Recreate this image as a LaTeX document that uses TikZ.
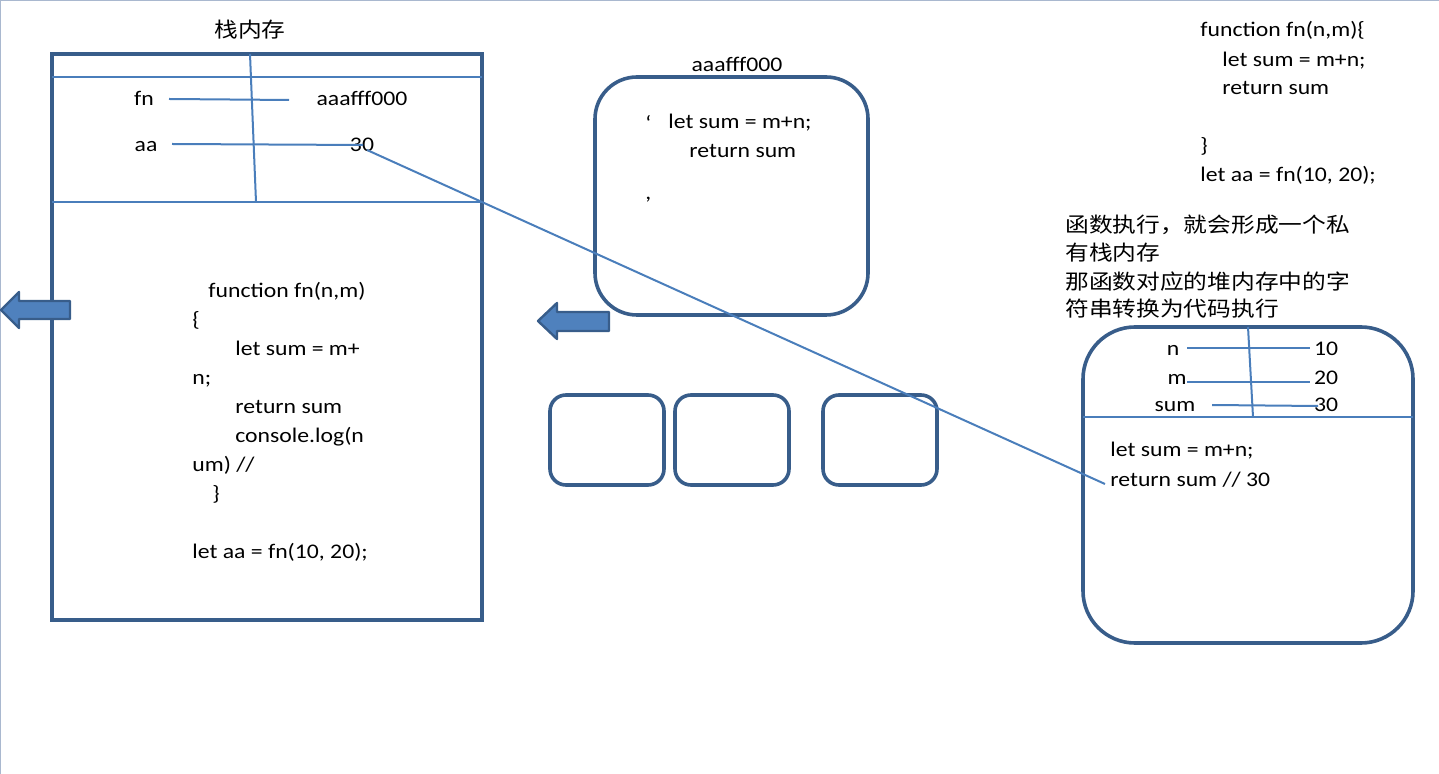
\documentclass[tikz,border=0pt]{standalone}
\usepackage{fontspec}
\setmainfont{Carlito}
\newfontfamily\cjk{Noto Sans CJK SC}
\newcommand{\SX}[1]{\scalebox{1.14}[1]{#1}}
\definecolor{boxc}{HTML}{385D8A}
\definecolor{linec}{HTML}{4A7EBB}
\definecolor{fillc}{HTML}{4F81BD}
\definecolor{framec}{HTML}{A9B8CF}
\begin{document}
\begin{tikzpicture}[x=0.5pt,y=-0.5pt,
  txt/.style={inner sep=0pt, font=\fontsize{10.4}{12}\selectfont, text=black},
  lt/.style={txt, anchor=base west},
  ct/.style={txt, anchor=base},
  boxframe/.style={draw=boxc, line width=1.6pt},
  heapbox/.style={draw=boxc, line width=1.8pt},
  thinline/.style={draw=linec, line width=1pt},
  blockarrow/.style={draw=boxc, fill=fillc, line width=1.2pt, line join=round}]
\useasboundingbox (0,0) rectangle (1439,774);
% page frame
\draw[framec, line width=0.8pt] (0.7,774) -- (0.7,0.7) -- (1439,0.7);

% ---------------- stack memory (left) ----------------
\node[ct] (title) at (250,38) {\cjk\SX{栈内存}};
\draw[boxframe] (52,54) rectangle (482,620);
\draw[thinline] (52,77) -- (482,77);
\draw[thinline] (52,202) -- (482,202);
\draw[thinline] (250,54) -- (256,202);
\node[ct] (fnkey) at (144,106) {\SX{fn}};
\node[ct] (fnval) at (362,106) {\SX{aaafff000}};
\node[ct] (aakey) at (146,152) {\SX{aa}};
\node[ct] (aaval) at (362,152) {\SX{30}};
\coordinate (fnA) at (169,99);
\coordinate (fnB) at (289,100);
\coordinate (aaA) at (172,144);
\coordinate (aaB) at (363,145);
\draw[thinline] (fnA) -- (fnB);
\draw[thinline] (aaA) -- (aaB);

\node[lt] (c1) at (208,298) {\SX{function fn(n,m)}};
\node[lt] (c2) at (192,327) {\SX{\{}};
\node[lt] (c3) at (235,356) {\SX{let sum = m+}};
\node[lt] (c4) at (192,385) {\SX{n;}};
\node[lt] (c5) at (235,414) {\SX{return sum}};
\node[lt] (c6) at (235,443) {\SX{console.log(n}};
\node[lt] (c7) at (192,472) {\SX{um) //}};
\node[lt] (c8) at (212,501) {\SX{\}}};
\node[lt] (c9) at (192,558) {\SX{let aa = fn(10, 20);}};

% block arrows
\path[blockarrow] (1,310) -- (19,292) -- (19,301) -- (70,301) -- (70,319) -- (19,319) -- (19,328) -- cycle;
\path[blockarrow] (538,321) -- (557,303) -- (557,312) -- (609,312) -- (609,331) -- (557,331) -- (557,339) -- cycle;

% ---------------- heap (middle) ----------------
\node[ct] (heaptitle) at (737,72) {\SX{aaafff000}};
\draw[heapbox, rounded corners=21pt] (595,77) rectangle (868,315);
\node[lt] (q1) at (645,131) {\SX{‘}};
\node[lt] (h1) at (668,129) {\SX{let sum = m+n;}};
\node[lt] (h2) at (689,158) {\SX{return sum}};
\node[lt] (q2) at (645,200) {\SX{,}};

\draw[heapbox, rounded corners=8pt] (550,395) rectangle (664,485);
\draw[heapbox, rounded corners=8pt] (675,395) rectangle (789,485);
\draw[heapbox, rounded corners=8pt] (823,395) rectangle (937,485);

% ---------------- right code ----------------
\node[lt] (r1) at (1200,37) {\SX{function fn(n,m)\{}};
\node[lt] (r2) at (1222,67) {\SX{let sum = m+n;}};
\node[lt] (r3) at (1222,95) {\SX{return sum}};
\node[lt] (r4) at (1200,153) {\SX{\}}};
\node[lt] (r5) at (1200,182) {\SX{let aa = fn(10, 20);}};

\node[lt] (z1) at (1065,233) {\cjk\SX{函数执行，就会形成一个私}};
\node[lt] (z2) at (1065,261) {\cjk\SX{有栈内存}};
\node[lt] (z3) at (1065,290) {\cjk\SX{那函数对应的堆内存中的字}};
\node[lt] (z4) at (1065,317) {\cjk\SX{符串转换为代码执行}};

% ---------------- private stack (right) ----------------
\draw[heapbox, rounded corners=26pt] (1083,327) rectangle (1413,643);
\draw[thinline] (1083,417) -- (1413,417);
\draw[thinline] (1248,327) -- (1253,417);
\node[ct] (nkey) at (1173,356) {\SX{n}};
\node[ct] (mkey) at (1177,385) {\SX{m}};
\node[ct] (skey) at (1175,412) {\SX{sum}};
\node[ct] (nval) at (1326,356) {\SX{10}};
\node[ct] (mval) at (1326,385) {\SX{20}};
\node[ct] (sval) at (1326,412) {\SX{30}};
\coordinate (nA) at (1187,348);
\coordinate (nB) at (1310,348);
\coordinate (mA) at (1187,382);
\coordinate (mB) at (1310,382);
\coordinate (sA) at (1212,405);
\coordinate (sB) at (1318,406);
\draw[thinline] (nA) -- (nB);
\draw[thinline] (mA) -- (mB);
\draw[thinline] (sA) -- (sB);
\node[lt] (p1) at (1110,457) {\SX{let sum = m+n;}};
\node[lt] (ret) at (1110,487) {\SX{return sum // 30}};

% long connector
\coordinate (from30) at (367,150);
\coordinate (toret) at (1105,484);
\draw[thinline] (from30) -- (toret);
\end{tikzpicture}
\end{document}
